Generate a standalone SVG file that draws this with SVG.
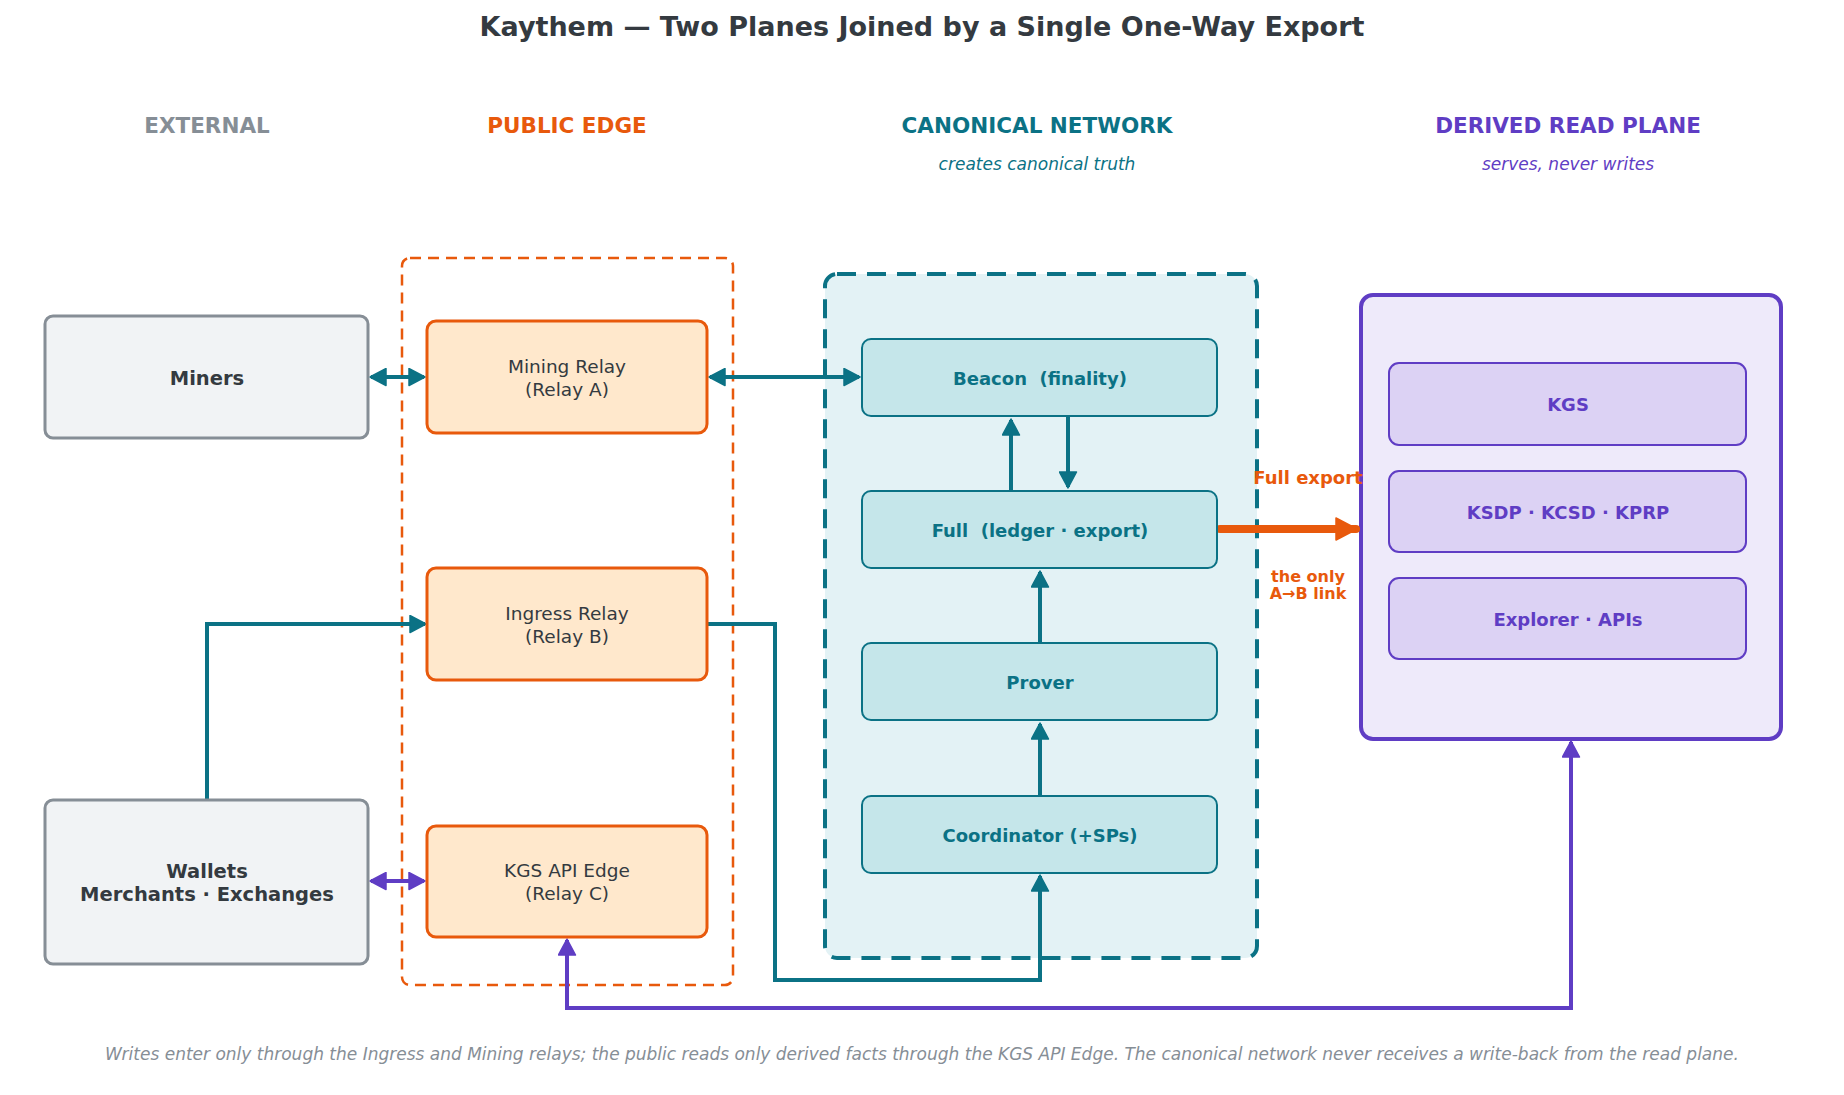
<svg xmlns="http://www.w3.org/2000/svg" width="1844" height="1095" viewBox="0 0 1844 1095">
<defs>
<style>
text{font-family:"DejaVu Sans","Liberation Sans",sans-serif;text-anchor:middle;dominant-baseline:central;white-space:pre}
.title{font-size:27px;font-weight:bold;fill:#343a40}
.hdr{font-size:21.5px;font-weight:bold}
.sub{font-size:17px;font-style:italic}
.ext{fill:#f1f3f5;stroke:#868e96;stroke-width:3}
.extt{font-size:19.5px;font-weight:bold;fill:#343a40}
.relay{fill:#ffe8cc;stroke:#e8590c;stroke-width:3}
.relayt{font-size:18.5px;fill:#343a40}
.can{fill:#c5e6ea;stroke:#0b7285;stroke-width:2}
.cant{font-size:18px;font-weight:bold;fill:#0b7285}
.der{fill:#dcd2f4;stroke:#5f3dc4;stroke-width:2}
.dert{font-size:18px;font-weight:bold;fill:#5f3dc4}
.teal{fill:none;stroke:#0b7285;stroke-width:4}
.purp{fill:none;stroke:#5f3dc4;stroke-width:4}
.foot{font-size:17px;font-style:italic;fill:#868e96}
</style>
<marker id="at" viewBox="-1 -1 18 19" refX="15" refY="8.5" markerUnits="userSpaceOnUse" markerWidth="18" markerHeight="19" orient="auto-start-reverse"><path d="M0,0 L16,8.5 L0,17 z" fill="#0b7285" stroke="#0b7285" stroke-width="1.5" stroke-linejoin="round"/></marker>
<marker id="ap" viewBox="-1 -1 18 19" refX="15" refY="8.5" markerUnits="userSpaceOnUse" markerWidth="18" markerHeight="19" orient="auto-start-reverse"><path d="M0,0 L16,8.5 L0,17 z" fill="#5f3dc4" stroke="#5f3dc4" stroke-width="1.5" stroke-linejoin="round"/></marker>
<marker id="ao" viewBox="-1 -1 23 24" refX="20" refY="11" markerUnits="userSpaceOnUse" markerWidth="23" markerHeight="24" orient="auto"><path d="M0,0 L21,11 L0,22 z" fill="#e8590c" stroke="#e8590c" stroke-width="1.5" stroke-linejoin="round"/></marker>
</defs>
<rect width="1844" height="1095" fill="#ffffff"/>
<text class="title" x="922" y="26">Kaythem — Two Planes Joined by a Single One-Way Export</text>

<g id="headers">
<text class="hdr" x="207" y="125" fill="#868e96">EXTERNAL</text>
<text class="hdr" x="567" y="125" fill="#e8590c">PUBLIC EDGE</text>
<text class="hdr" x="1037" y="125" fill="#0b7285">CANONICAL NETWORK</text>
<text class="sub" x="1037" y="164" fill="#0b7285">creates canonical truth</text>
<text class="hdr" x="1568" y="125" fill="#5f3dc4">DERIVED READ PLANE</text>
<text class="sub" x="1568" y="164" fill="#5f3dc4">serves, never writes</text>
</g>

<g id="public-edge"><rect x="402" y="258" width="331" height="727" rx="8" fill="none" stroke="#e8590c" stroke-width="2.5" stroke-dasharray="11,7"/></g>
<g id="canonical-network"><rect x="825" y="274" width="432" height="684" rx="12" fill="#e3f2f5" stroke="#0b7285" stroke-width="4" stroke-dasharray="19,11"/></g>
<g id="derived-read-plane"><rect x="1361" y="295" width="420" height="444" rx="12" fill="#eeeafa" stroke="#5f3dc4" stroke-width="4"/></g>

<g id="connectors">
<line class="teal" x1="371" y1="377" x2="424" y2="377" marker-start="url(#at)" marker-end="url(#at)"/>
<line class="teal" x1="710" y1="377" x2="859" y2="377" marker-start="url(#at)" marker-end="url(#at)"/>
<line class="teal" x1="1011" y1="491" x2="1011" y2="420" marker-end="url(#at)"/>
<line class="teal" x1="1068" y1="416" x2="1068" y2="487" marker-end="url(#at)"/>
<line class="teal" x1="1040" y1="643" x2="1040" y2="572" marker-end="url(#at)"/>
<line class="teal" x1="1040" y1="796" x2="1040" y2="724" marker-end="url(#at)"/>
<polyline class="teal" points="207,800 207,624 425,624" marker-end="url(#at)"/>
<polyline class="teal" points="704,624 775,624 775,980 1040,980 1040,876" marker-end="url(#at)"/>
<line class="purp" x1="371" y1="881" x2="424" y2="881" marker-start="url(#ap)" marker-end="url(#ap)"/>
<polyline class="purp" points="567,940 567,1008 1571,1008 1571,742" marker-start="url(#ap)" marker-end="url(#ap)"/>
<line x1="1220" y1="529" x2="1356" y2="529" stroke="#e8590c" stroke-width="8" stroke-linecap="round" marker-end="url(#ao)"/>
<text x="1308" y="477" font-size="18" font-weight="bold" fill="#e8590c">Full export</text>
<text x="1308" y="576" font-size="16" font-weight="bold" fill="#e8590c">the only</text>
<text x="1308" y="593" font-size="16" font-weight="bold" fill="#e8590c">A→B link</text>
</g>

<g id="miners"><rect class="ext" x="45" y="316" width="323" height="122" rx="8"/><text class="extt" x="207" y="378">Miners</text></g>
<g id="wallets"><rect class="ext" x="45" y="800" width="323" height="164" rx="8"/><text class="extt" x="207" y="871">Wallets</text><text class="extt" x="207" y="894">Merchants · Exchanges</text></g>

<g id="mining-relay"><rect class="relay" x="427" y="321" width="280" height="112" rx="9"/><text class="relayt" x="567" y="366">Mining Relay</text><text class="relayt" x="567" y="389">(Relay A)</text></g>
<g id="ingress-relay"><rect class="relay" x="427" y="568" width="280" height="112" rx="9"/><text class="relayt" x="567" y="613">Ingress Relay</text><text class="relayt" x="567" y="636">(Relay B)</text></g>
<g id="kgs-api-edge"><rect class="relay" x="427" y="826" width="280" height="111" rx="9"/><text class="relayt" x="567" y="870">KGS API Edge</text><text class="relayt" x="567" y="893">(Relay C)</text></g>

<g id="beacon"><rect class="can" x="862" y="339" width="355" height="77" rx="9"/><text class="cant" x="1040" y="378" xml:space="preserve">Beacon  (finality)</text></g>
<g id="full"><rect class="can" x="862" y="491" width="355" height="77" rx="9"/><text class="cant" x="1040" y="530" xml:space="preserve">Full  (ledger · export)</text></g>
<g id="prover"><rect class="can" x="862" y="643" width="355" height="77" rx="9"/><text class="cant" x="1040" y="682">Prover</text></g>
<g id="coordinator"><rect class="can" x="862" y="796" width="355" height="77" rx="9"/><text class="cant" x="1040" y="835">Coordinator (+SPs)</text></g>

<g id="kgs"><rect class="der" x="1389" y="363" width="357" height="82" rx="10"/><text class="dert" x="1568" y="404">KGS</text></g>
<g id="ksdp"><rect class="der" x="1389" y="471" width="357" height="81" rx="10"/><text class="dert" x="1568" y="512">KSDP · KCSD · KPRP</text></g>
<g id="explorer"><rect class="der" x="1389" y="578" width="357" height="81" rx="10"/><text class="dert" x="1568" y="619">Explorer · APIs</text></g>

<text class="foot" x="922" y="1054">Writes enter only through the Ingress and Mining relays; the public reads only derived facts through the KGS API Edge. The canonical network never receives a write-back from the read plane.</text>
</svg>
